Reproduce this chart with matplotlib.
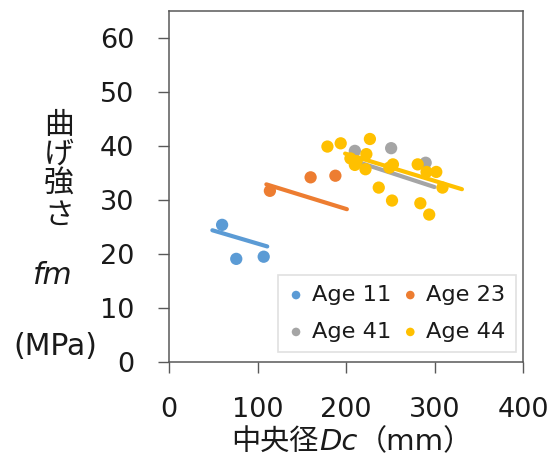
import matplotlib
matplotlib.use("Agg")
import matplotlib.pyplot as plt
from matplotlib.offsetbox import TextArea, HPacker, AnchoredOffsetbox

plt.rcParams["font.family"] = ["DejaVu Sans", "Noto Sans CJK JP"]

# data (D_c in mm, f_m in MPa)
labels = ["Age 11", "Age 23", "Age 41", "Age 44"]
colors = ["#5B9BD5", "#ED7D31", "#A5A5A5", "#FFC000"]

age11_x = [60, 76, 107]
age11_y = [25.4, 19.1, 19.5]
age23_x = [114, 160, 188]
age23_y = [31.7, 34.2, 34.5]
age41_x = [210, 251, 290]
age41_y = [39.1, 39.6, 36.9]
age44_x = [179, 194, 227, 223, 205, 212, 210, 222, 253, 249, 281, 291, 302,
           309, 237, 252, 284, 294]
age44_y = [39.9, 40.5, 41.3, 38.5, 37.7, 37.2, 36.5, 35.7, 36.6, 36.0, 36.6,
           35.2, 35.2, 32.3, 32.3, 29.9, 29.4, 27.3]

# trend line end points per series
trend11_x, trend11_y = [49, 111], [24.4, 21.4]
trend23_x, trend23_y = [110, 201], [32.9, 28.3]
trend41_x, trend41_y = [201, 300], [37.7, 32.4]
trend44_x, trend44_y = [199, 331], [38.6, 32.0]

points = [(age11_x, age11_y), (age23_x, age23_y), (age41_x, age41_y), (age44_x, age44_y)]
trends = [(trend11_x, trend11_y), (trend23_x, trend23_y),
          (trend41_x, trend41_y), (trend44_x, trend44_y)]

fig = plt.figure(figsize=(5.48, 4.65), dpi=100)
ax = fig.add_axes([0.3084, 0.2215, 0.646, 0.7548])

handles = []
for (px, py), (tx, ty), c, lab in zip(points, trends, colors, labels):
    h = ax.scatter(px, py, s=78, color=c, edgecolors="none", label=lab, zorder=3)
    ax.plot(tx, ty, color=c, lw=3, solid_capstyle="round", zorder=2)
    handles.append(h)

ax.set_xlim(0, 400)
ax.set_ylim(0, 65)
ax.set_xticks([0, 100, 200, 300, 400])
ax.set_yticks([0, 10, 20, 30, 40, 50, 60])
ax.tick_params(direction="out", length=8, width=1, color="#595959",
               labelsize=19.5, pad=17, labelcolor="#1a1a1a")
for sp in ax.spines.values():
    sp.set_color("#595959")
    sp.set_linewidth(1.1)

# row-major order like the reference: 11, 23 / 41, 44
order = [0, 2, 1, 3]
leg = ax.legend([handles[i] for i in order], [labels[i] for i in order],
                ncol=2, loc="lower left", bbox_to_anchor=(0.308, 0.0286),
                fontsize=16.2, markerscale=0.7, handletextpad=0.35,
                columnspacing=0.5, labelspacing=0.75, borderpad=0.45,
                handlelength=0.7, frameon=True, fancybox=False,
                borderaxespad=0)
leg.get_frame().set_edgecolor("#d9d9d9")
leg.get_frame().set_linewidth(1.2)
for t in leg.get_texts():
    t.set_color("#1a1a1a")

# y label: stacked characters
ylab_kw = dict(ha="center", va="center", fontsize=21.5, color="#1a1a1a")
for ch, yy in zip(["曲", "げ", "強", "さ"], [125, 154, 183, 215]):
    fig.text(59 / 548, 1 - yy / 465, ch, **ylab_kw)
fig.text(53 / 548, 1 - 276 / 465, "fm", style="italic", family="DejaVu Sans", **ylab_kw)
fig.text(55 / 548, 1 - 346 / 465, "(MPa)", **ylab_kw)

# x label with italic Dc
xkw = dict(fontsize=21, color="#1a1a1a")
parts = [
    TextArea("中央径", textprops=xkw),
    TextArea("Dc", textprops=dict(xkw, style="italic", family="DejaVu Sans")),
    TextArea("（mm）", textprops=xkw),
]
box = HPacker(children=parts, align="baseline", pad=0, sep=0)
anch = AnchoredOffsetbox(loc="center", child=box, frameon=False,
                         bbox_to_anchor=(352 / 548, 1 - 442 / 465),
                         bbox_transform=fig.transFigure, borderpad=0, pad=0)
fig.add_artist(anch)

fig.savefig("out.png", dpi=100)
